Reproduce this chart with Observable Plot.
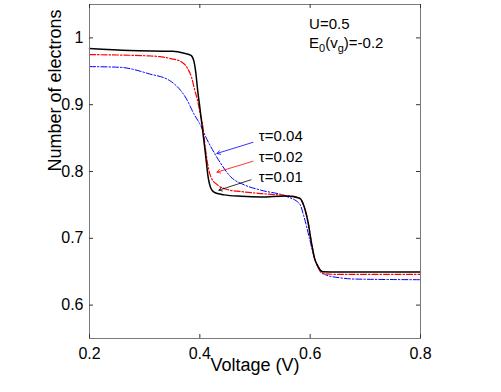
<!DOCTYPE html>
<html>
<head>
<meta charset="utf-8">
<script src="https://cdn.jsdelivr.net/npm/d3@7"></script>
<script src="https://cdn.jsdelivr.net/npm/@observablehq/plot@0.6"></script>
<style>
  html, body { margin: 0; padding: 0; background: #fff; }
  #chart { width: 501px; height: 392px; }
</style>
</head>
<body>
<div id="chart"></div>
<script>
// tau = 0.01 (black, solid)
const blackX = [0.2, 0.273, 0.351, 0.372, 0.384, 0.389, 0.393, 0.396, 0.400, 0.405, 0.410, 0.415, 0.420, 0.426, 0.432, 0.444, 0.475, 0.511, 0.556, 0.581, 0.590, 0.596, 0.602, 0.608, 0.614, 0.623, 0.65, 0.8];
const blackY = [0.984, 0.981, 0.980, 0.977, 0.974, 0.966, 0.946, 0.922, 0.896, 0.862, 0.828, 0.792, 0.775, 0.769, 0.767, 0.765, 0.763, 0.762, 0.7635, 0.760, 0.745, 0.725, 0.695, 0.670, 0.658, 0.650, 0.6495, 0.6495];
// tau = 0.02 (red, dash-dot)
const redX = [0.2, 0.309, 0.327, 0.347, 0.365, 0.378, 0.385, 0.391, 0.396, 0.4005, 0.405, 0.409, 0.414, 0.420, 0.432, 0.450, 0.475, 0.511, 0.556, 0.575, 0.584, 0.590, 0.596, 0.602, 0.608, 0.614, 0.623, 0.65, 0.8];
const redY = [0.975, 0.973, 0.972, 0.969, 0.965, 0.954, 0.941, 0.921, 0.906, 0.887, 0.870, 0.842, 0.812, 0.792, 0.780, 0.773, 0.770, 0.767, 0.764, 0.762, 0.757, 0.745, 0.725, 0.695, 0.670, 0.657, 0.647, 0.646, 0.646];
// tau = 0.04 (blue, dash-dot)
const blueX = [0.2, 0.255, 0.309, 0.3455, 0.3655, 0.3776, 0.384, 0.390, 0.396, 0.402, 0.410, 0.420, 0.438, 0.456, 0.4805, 0.511, 0.556, 0.5805, 0.5896, 0.5987, 0.6078, 0.6169, 0.629, 0.653, 0.68, 0.8];
const blueY = [0.957, 0.956, 0.946, 0.936, 0.921, 0.906, 0.895, 0.885, 0.877, 0.868, 0.853, 0.837, 0.812, 0.792, 0.780, 0.772, 0.763, 0.752, 0.730, 0.700, 0.670, 0.655, 0.645, 0.641, 0.639, 0.638];

const xTicks = [0.2, 0.4, 0.6, 0.8];
const yTicks = [0.6, 0.7, 0.8, 0.9, 1];

// annotations
const tauLabels = ["τ=0.04", "τ=0.02", "τ=0.01"];
const tauColors = ["#0000ff", "#ff0000", "#000000"];
const tauLabelX = [0.507, 0.507, 0.507];
const tauLabelY = [0.853, 0.821, 0.7915];
const arrowX1 = [0.4964, 0.4964, 0.4927];
const arrowY1 = [0.8437, 0.8154, 0.7876];
const arrowX2 = [0.431, 0.431, 0.4345];
const arrowY2 = [0.827, 0.799, 0.772];
const paramLabels = ["U=0.5", "E0(vg)=-0.2"];
const paramX = [0.598, 0.598];
const paramY = [1.02, 0.9915];

const toRows = (xs, ys) => xs.map((x, i) => ({x, y: ys[i]}));
const tauRows = tauLabels.map((t, i) => ({t, c: tauColors[i], x: tauLabelX[i], y: tauLabelY[i], x1: arrowX1[i], y1: arrowY1[i], x2: arrowX2[i], y2: arrowY2[i]}));
const paramRows = paramLabels.map((t, i) => ({t, x: paramX[i], y: paramY[i]}));

const W = 501, H = 392, mL = 89, mR = 81, mT = 4, mB = 54;
const plotH = H - mT - mB, plotW = W - mL - mR;
const tick = 4;

const chart = Plot.plot({
  width: W, height: H,
  marginLeft: mL, marginRight: mR, marginTop: mT, marginBottom: mB,
  style: {fontFamily: "'Liberation Sans', Arial, sans-serif", background: "#fff", color: "#000"},
  x: {domain: [0.2, 0.8]},
  y: {domain: [0.55, 1.05]},
  marks: [
    Plot.line(toRows(blueX, blueY), {x: "x", y: "y", stroke: "#0000ff", strokeWidth: 1, strokeDasharray: "6,2,1.5,2", curve: "monotone-x"}),
    Plot.line(toRows(redX, redY), {x: "x", y: "y", stroke: "#ff0000", strokeWidth: 1.2, strokeDasharray: "6,2,1.5,2", curve: "monotone-x"}),
    Plot.line(toRows(blackX, blackY), {x: "x", y: "y", stroke: "#000000", strokeWidth: 1.5, curve: "monotone-x"}),
    Plot.frame({stroke: "#7a7a7a", strokeWidth: 1}),
    Plot.ruleX(xTicks, {x: d => d, insetTop: plotH - tick, stroke: "#333"}),
    Plot.ruleX(xTicks, {x: d => d, insetBottom: plotH - tick, stroke: "#333"}),
    Plot.ruleY(yTicks, {y: d => d, insetRight: plotW - tick, stroke: "#333"}),
    Plot.ruleY(yTicks, {y: d => d, insetLeft: plotW - tick, stroke: "#333"}),
    Plot.axisX(xTicks, {tickSize: 0, tickPadding: 9, fontSize: 16, tickFormat: d => String(d), label: null}),
    Plot.axisY(yTicks, {tickSize: 0, tickPadding: 6, fontSize: 16, tickFormat: d => String(d), label: null}),
    Plot.text(["Voltage (V)"], {frameAnchor: "bottom", dy: 32, fontSize: 18, fill: "#000"}),
    Plot.text(["Number of electrons"], {frameAnchor: "left", dx: -34, rotate: -90, fontSize: 18, fill: "#000"}),
    Plot.arrow(tauRows, {x1: "x1", y1: "y1", x2: "x2", y2: "y2", stroke: "c", strokeWidth: 0.8, headLength: 7}),
    Plot.text(tauRows, {x: "x", y: "y", text: "t", textAnchor: "start", fontSize: 15, fill: "#000"}),
    Plot.text(paramRows, {x: "x", y: "y", text: "t", textAnchor: "start", fontSize: 15, fill: "#000"})
  ]
});

document.getElementById("chart").appendChild(chart);

// subscripts for E0(vg)
d3.select(chart).selectAll("text").each(function() {
  if (this.textContent === "E0(vg)=-0.2") {
    const t = d3.select(this);
    t.text(null);
    t.append("tspan").text("E");
    t.append("tspan").attr("dy", 4).attr("font-size", 11).text("0");
    t.append("tspan").attr("dy", -4).text("(v");
    t.append("tspan").attr("dy", 4).attr("font-size", 11).text("g");
    t.append("tspan").attr("dy", -4).text(")=-0.2");
  }
});
</script>
</body>
</html>
